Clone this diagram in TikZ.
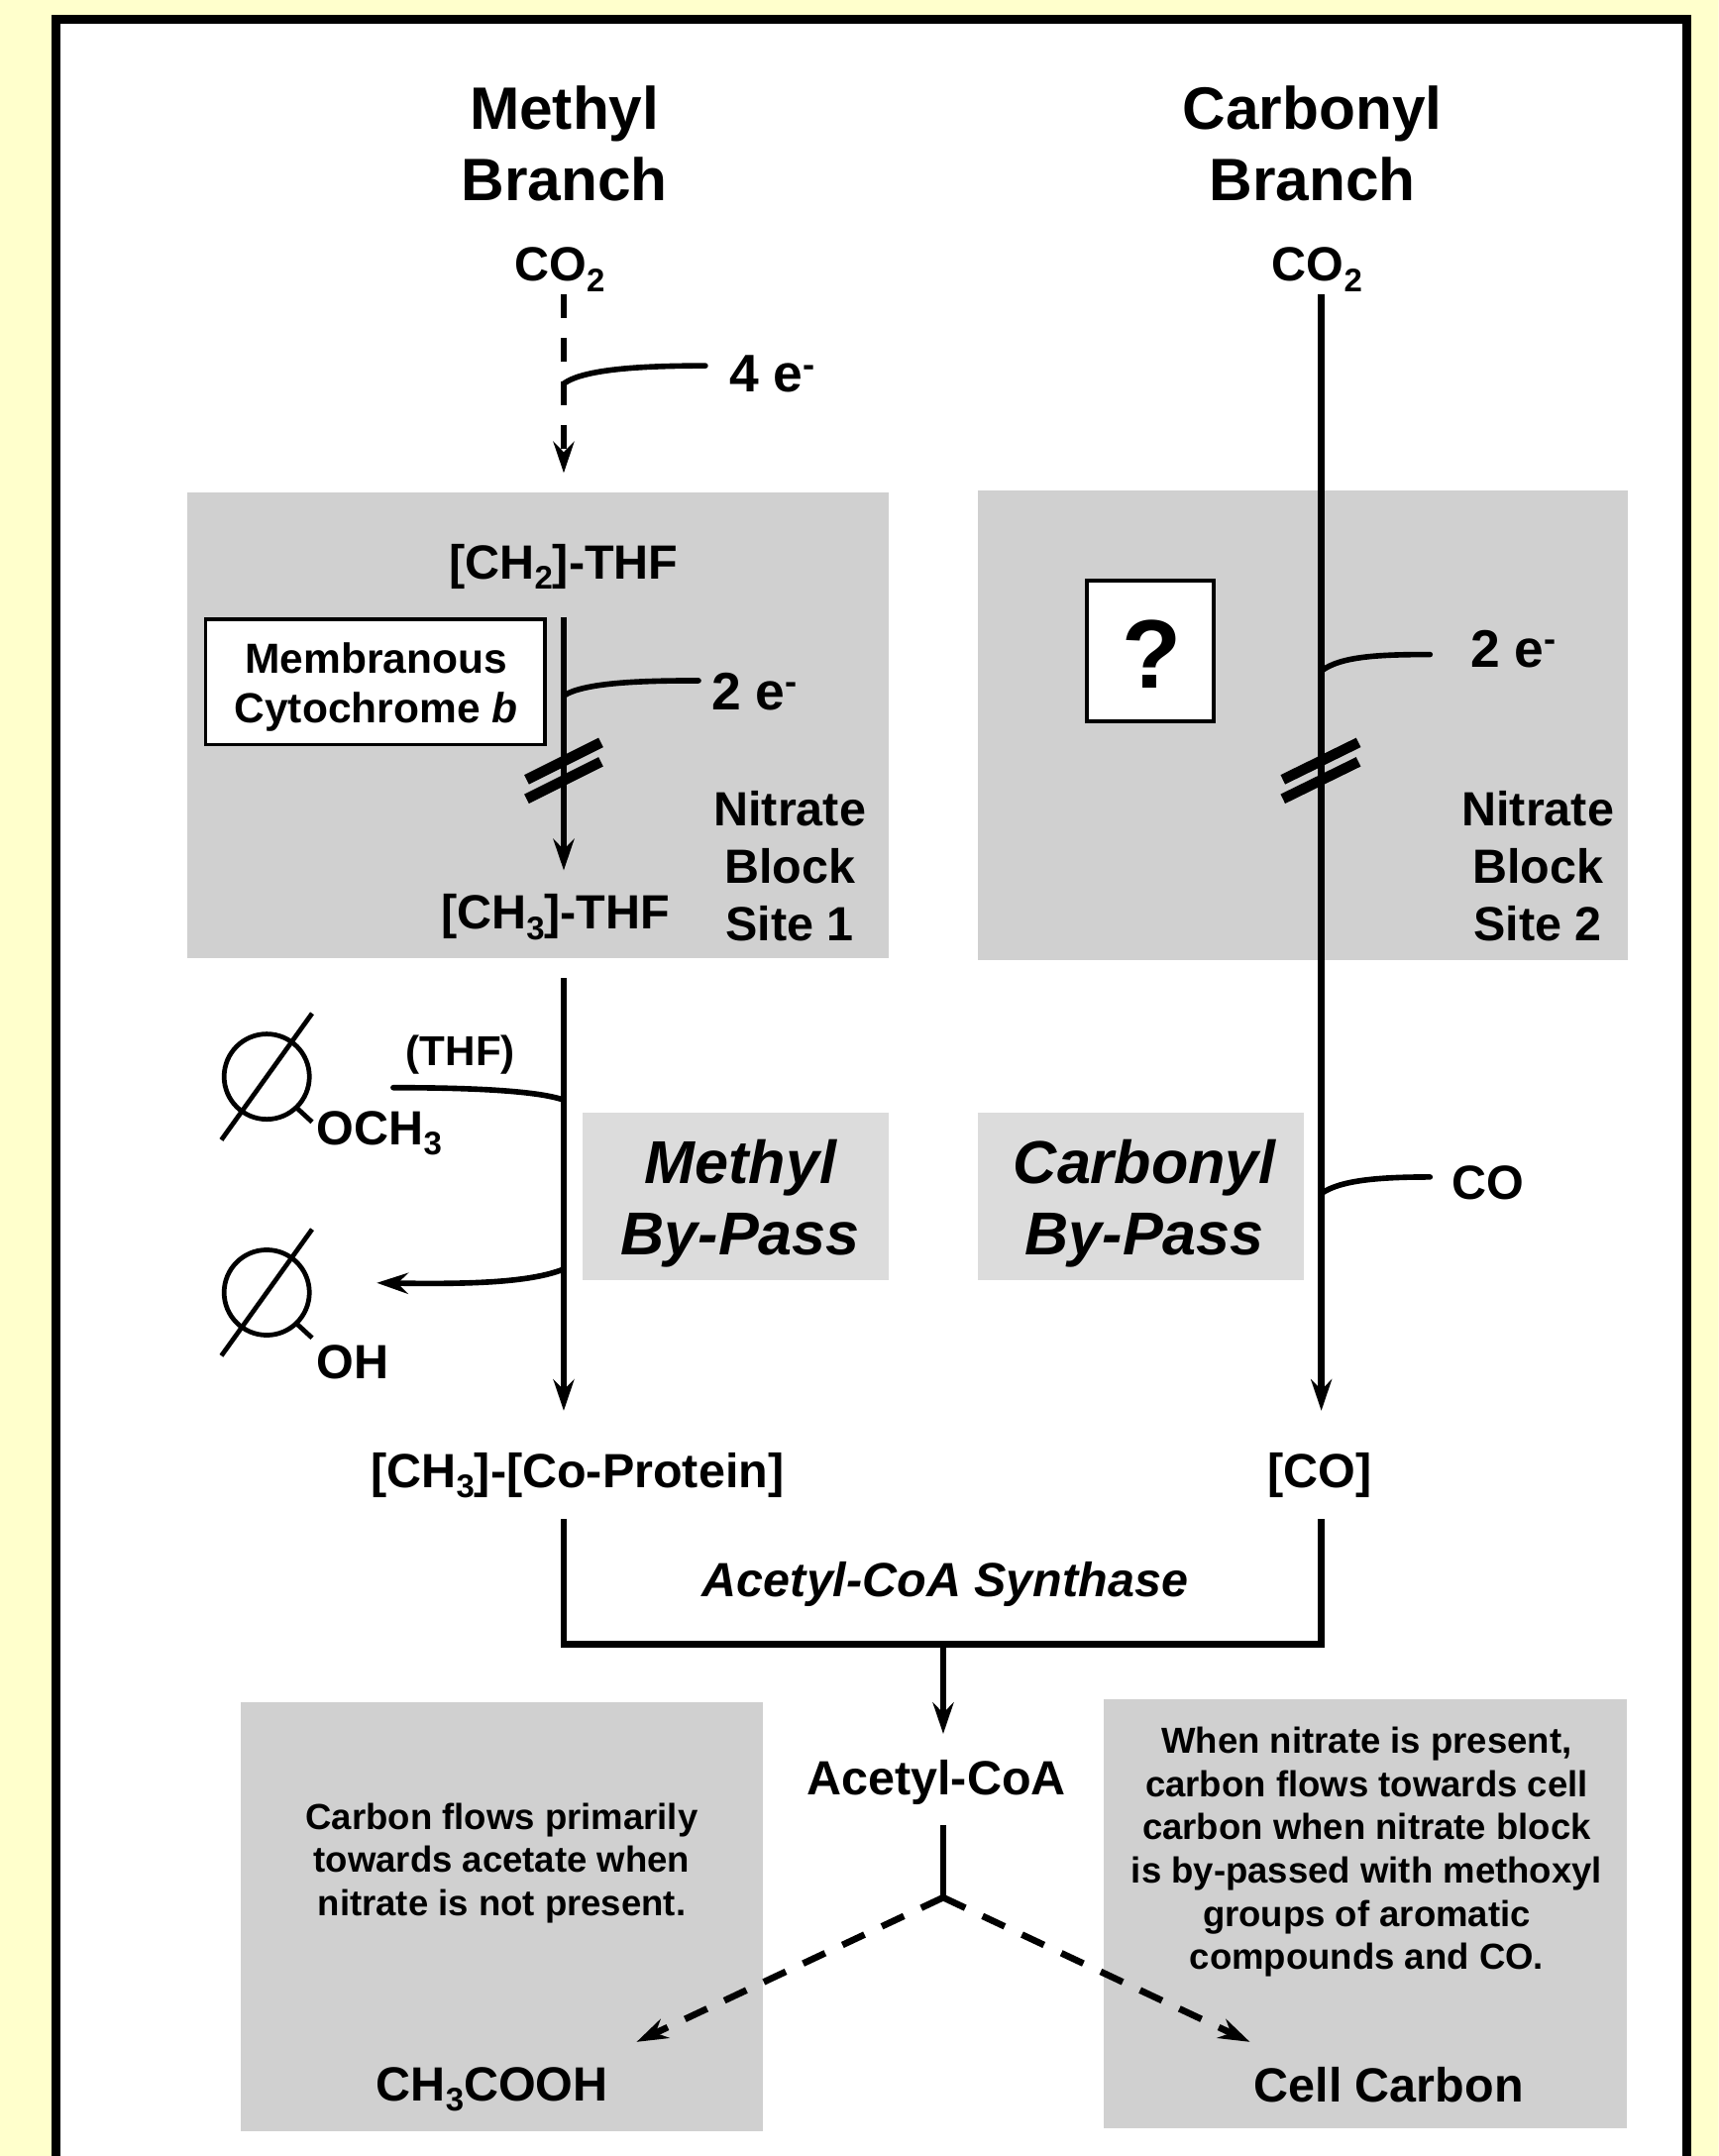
\documentclass[tikz,border=0pt]{standalone}
\usepackage{fontspec}
\setmainfont{Liberation Sans}
\usepackage{tikz}
\usetikzlibrary{arrows.meta}
\definecolor{paleyellow}{HTML}{FFFFCC}
\definecolor{blockgrey}{HTML}{D0D0D0}
\definecolor{passgrey}{HTML}{DCDCDC}
\newcommand{\lowsub}[1]{\raisebox{-0.4ex}{\scalebox{0.68}{#1}}}
\newcommand{\elec}{e\raisebox{0.55ex}{\scalebox{0.68}{-}}}
\tikzset{
    lbl/.style={font=\fontsize{13.8}{16.6}\selectfont\bfseries, inner sep=0pt, align=center},
    headlbl/.style={font=\fontsize{17.2}{20.5}\selectfont\bfseries, inner sep=0pt, align=center},
    passlbl/.style={font=\fontsize{17.4}{20.5}\selectfont\bfseries\itshape, inner sep=0pt, align=center},
    notelbl/.style={font=\fontsize{10.4}{12.4}\selectfont\bfseries, inner sep=0pt, align=center},
    flow/.style={line width=1.9pt},
    tipped/.style={-{Stealth[length=9pt,width=6pt,inset=3pt]}},
    dashflow/.style={flow, dash pattern=on 7pt off 5.5pt},
    feed/.style={line width=1.6pt, line cap=round},
    blockbar/.style={line width=3pt},
    ringnode/.style={circle, draw, line width=1.35pt, inner sep=0pt, minimum size=24.5pt},
    ringline/.style={line width=1.35pt}
}

\begin{document}
\begin{tikzpicture}[x=0.01388cm,y=-0.01388cm]
    \clip (0,0) rectangle (1250,1568);
    \fill[paleyellow] (0,0) rectangle (1250,1568);
    \draw[line width=2.6pt,fill=white] (41,14) rectangle (1227,1620);

    % shaded regions
    \fill[blockgrey] (136,358) rectangle (646,697);
    \fill[blockgrey] (711,357) rectangle (1184,698);
    \fill[passgrey] (424,809) rectangle (646,931);
    \fill[passgrey] (711,809) rectangle (948,931);
    \fill[blockgrey] (175,1238) rectangle (555,1550);
    \fill[blockgrey] (803,1236) rectangle (1183,1548);

    % trunks
    \coordinate (mtrunk) at (410,0);
    \coordinate (ctrunk) at (961,0);

    \node[headlbl] (methyl) at (410.5,104.5) {Methyl\\Branch};
    \node[headlbl] (carbonyl) at (954.5,104.5) {Carbonyl\\Branch};
    \node[lbl, outer ysep=0.8pt] (co2m) at (407,196) {CO\lowsub{2}};
    \node[lbl, outer ysep=0.8pt] (co2c) at (958,196) {CO\lowsub{2}};

    \node[lbl, outer ysep=8pt] (ch2thf) at (410,412) {[CH\lowsub{2}]-THF};
    \node[lbl, outer ysep=11pt] (ch3thf) at (404,667) {[CH\lowsub{3}]-THF};
    \node[lbl, outer ysep=6pt] (coprot) at (420,1073) {[CH\lowsub{3}]-[Co-Protein]};
    \node[lbl, outer ysep=6pt] (coend) at (960,1073) {[CO]};
    \node[lbl, outer ysep=6pt] (acoa) at (681,1296) {Acetyl-CoA};
    \node[lbl, font=\fontsize{13.8}{16.6}\selectfont\bfseries\itshape] (synth) at (687.5,1152) {Acetyl-CoA Synthase};

    \node[draw, fill=white, line width=1pt, inner sep=0pt, minimum width=97.5pt, minimum height=36pt] (cytb) at (273,496) {};
    \node[lbl, font=\fontsize{12.1}{14.2}\selectfont\bfseries] (cytlbl) at (273.5,500) {Membranous\\Cytochrome \textit{b}};
    \node[draw, fill=white, line width=1.2pt, inner sep=0pt, minimum width=36.5pt, minimum height=40.5pt] (unknown) at (836.5,473.5) {};
    \node[inner sep=0pt, font=\fontsize{28}{28}\selectfont\bfseries] (qmark) at (838,476) {?};

    \node[lbl] (site1) at (574.5,630) {Nitrate\\Block\\Site 1};
    \node[lbl] (site2) at (1118.5,630) {Nitrate\\Block\\Site 2};
    \node[lbl, font=\fontsize{15.2}{17}\selectfont\bfseries] (efour) at (561.5,272) {4 \elec};
    \node[lbl, font=\fontsize{15.2}{17}\selectfont\bfseries] (etwom) at (548.5,503) {2 \elec};
    \node[lbl, font=\fontsize{15.2}{17}\selectfont\bfseries] (etwoc) at (1100.5,472) {2 \elec};
    \node[lbl] (cofeed) at (1082,860) {CO};
    \node[lbl, font=\fontsize{12}{14}\selectfont\bfseries] (thf) at (335,767) {(THF)};
    \node[lbl, anchor=west] (och) at (230,824) {OCH\lowsub{3}};
    \node[lbl, anchor=west] (oh) at (230,991) {OH};
    \node[passlbl] (mpass) at (538.5,875) {Methyl\\By-Pass};
    \node[passlbl] (cpass) at (832.5,875) {Carbonyl\\By-Pass};

    \node[notelbl] (noteleft) at (365,1355) {Carbon flows primarily\\towards acetate when\\nitrate is not present.};
    \node[notelbl] (noteright) at (994,1347) {When nitrate is present,\\carbon flows towards cell\\carbon when nitrate block\\is by-passed with methoxyl\\groups of aromatic\\compounds and CO.};
    \node[lbl] (acetate) at (358,1519.5) {CH\lowsub{3}COOH};
    \node[lbl] (cellc) at (1010,1516) {Cell Carbon};

    % free ends
    \coordinate (tipa) at (410,344);
    \coordinate (tipb) at (410,633);
    \coordinate (tipc) at (410,1026);
    \coordinate (tipd) at (961,1026);
    \coordinate (brl) at (410,1196);
    \coordinate (brr) at (961,1196);
    \coordinate (jn) at (686,1196);
    \coordinate (tipe) at (686,1261);
    \coordinate (fork) at (686,1380);
    \coordinate (tipf) at (463,1485);
    \coordinate (tipg) at (909,1485);

    \draw[dashflow,tipped] (co2m.south -| mtrunk) -- (tipa);
    \draw[flow,tipped] (ch2thf.south -| mtrunk) -- (tipb);
    \draw[flow,tipped] (ch3thf.south -| mtrunk) -- (tipc);
    \draw[flow,tipped] (co2c.south -| ctrunk) -- (tipd);
    \draw[flow] (coprot.south -| mtrunk) -- (brl) -- (brr) -- (coend.south -| ctrunk);
    \draw[flow,tipped] (jn) -- (tipe);
    \draw[flow] (acoa.south -| jn) -- (fork);
    \draw[dashflow,tipped] (fork) -- (tipf);
    \draw[dashflow,tipped] (fork) -- (tipg);

    % side feeds
    \coordinate (fa) at (410,279);
    \coordinate (fb) at (410,506);
    \coordinate (fc) at (961,488);
    \coordinate (fd) at (961,868);
    \coordinate (fe) at (410,800);
    \coordinate (ff) at (410,923);
    \coordinate (ga) at (513,266);
    \coordinate (gb) at (508,495);
    \coordinate (gc) at (1040,476);
    \coordinate (gd) at (1040,856);
    \coordinate (ge) at (286,791);
    \coordinate (gf) at (274,933);
    \draw[feed] (fa) .. controls (425,268) and (470,266) .. (ga);
    \draw[feed] (fb) .. controls (425,496) and (470,495) .. (gb);
    \draw[feed] (fc) .. controls (975,477) and (1005,476) .. (gc);
    \draw[feed] (fd) .. controls (975,858) and (1005,856) .. (gd);
    \draw[feed] (fe) .. controls (390,793) and (340,791) .. (ge);
    \draw[feed,line cap=butt,tipped] (ff) .. controls (385,933) and (340,934) .. (gf);

    % nitrate block bars
    \draw[blockbar] (383,567) -- (437,540);
    \draw[blockbar] (383,581) -- (437,554);
    \draw[blockbar] (933,567) -- (988,540);
    \draw[blockbar] (933,581) -- (988,554);

    % aromatic rings
    \node[ringnode] (ringa) at (194,783) {};
    \draw[ringline] ([shift={(-33,46)}]ringa.center) -- ([shift={(33,-46)}]ringa.center);
    \draw[ringline] ([shift={(21,22)}]ringa.center) -- ([shift={(33,33)}]ringa.center);
    \node[ringnode] (ringb) at (194,940) {};
    \draw[ringline] ([shift={(-33,46)}]ringb.center) -- ([shift={(33,-46)}]ringb.center);
    \draw[ringline] ([shift={(21,22)}]ringb.center) -- ([shift={(33,33)}]ringb.center);
\end{tikzpicture}
\end{document}
